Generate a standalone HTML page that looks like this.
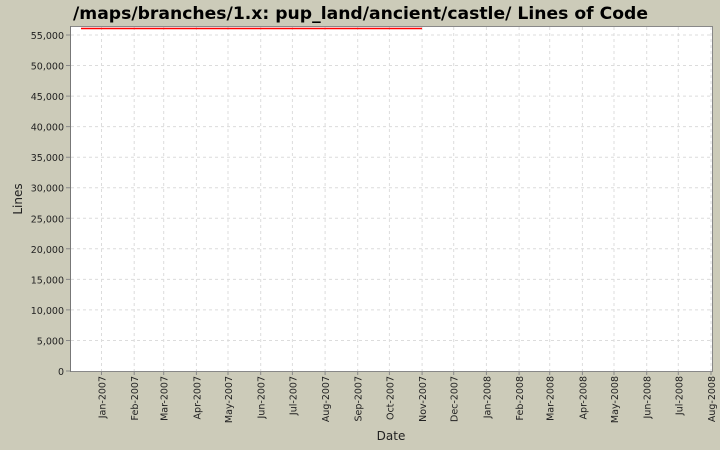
<!DOCTYPE html>
<html><head><meta charset="utf-8"><style>
html,body{margin:0;padding:0;background:#cccbb9;}
svg{display:block;font-family:"DejaVu Sans","Liberation Sans",sans-serif;}
</style></head><body>
<svg width="720" height="450" viewBox="0 0 720 450">
<rect width="720" height="450" fill="#cccbb9"/>
<text x="73" y="19" font-size="17" font-weight="bold" fill="#000" textLength="575" lengthAdjust="spacingAndGlyphs">/maps/branches/1.x: pup_land/ancient/castle/ Lines of Code</text>
<rect x="70.5" y="26.5" width="642" height="345" fill="#fff" stroke="#888"/>
<g stroke="#dcdcdc" stroke-dasharray="3,3" stroke-width="1">
<path d="M71 340.5H712M71 309.9H712M71 279.4H712M71 248.8H712M71 218.3H712M71 187.7H712M71 157.2H712M71 126.6H712M71 96.1H712M71 65.5H712M71 35H712"/>
<path d="M101.5 27V371M134.2 27V371M163.7 27V371M196.4 27V371M228 27V371M260.7 27V371M292.4 27V371M325.1 27V371M357.7 27V371M389.4 27V371M422.1 27V371M453.7 27V371M486.4 27V371M519.1 27V371M549.7 27V371M582.4 27V371M614 27V371M646.7 27V371M678.3 27V371M711 27V371"/>
</g>
<line x1="81" y1="28.5" x2="422" y2="28.5" stroke="#f00" stroke-width="1.5"/>
<line x1="70.5" y1="26" x2="70.5" y2="372" stroke="#777"/>
<g stroke="#888"><path d="M66 371H70M66 340.5H70M66 309.9H70M66 279.4H70M66 248.8H70M66 218.3H70M66 187.7H70M66 157.2H70M66 126.6H70M66 96.1H70M66 65.5H70M66 35H70"/>
<path d="M101.5 372V375M134.2 372V375M163.7 372V375M196.4 372V375M228 372V375M260.7 372V375M292.4 372V375M325.1 372V375M357.7 372V375M389.4 372V375M422.1 372V375M453.7 372V375M486.4 372V375M519.1 372V375M549.7 372V375M582.4 372V375M614 372V375M646.7 372V375M678.3 372V375M711 372V375"/></g>
<g font-size="9.5" fill="#222" text-anchor="end">
<text x="64" y="375">0</text><text x="64" y="344.5">5,000</text><text x="64" y="313.9">10,000</text><text x="64" y="283.4">15,000</text><text x="64" y="252.8">20,000</text><text x="64" y="222.3">25,000</text><text x="64" y="191.7">30,000</text><text x="64" y="161.2">35,000</text><text x="64" y="130.6">40,000</text><text x="64" y="100.1">45,000</text><text x="64" y="69.5">50,000</text><text x="64" y="39">55,000</text>
</g>
<g font-size="9.5" fill="#222" text-anchor="end">
<text transform="translate(105.5,376) rotate(-90)">Jan-2007</text>
<text transform="translate(138.2,376) rotate(-90)">Feb-2007</text>
<text transform="translate(167.7,376) rotate(-90)">Mar-2007</text>
<text transform="translate(200.4,376) rotate(-90)">Apr-2007</text>
<text transform="translate(232,376) rotate(-90)">May-2007</text>
<text transform="translate(264.7,376) rotate(-90)">Jun-2007</text>
<text transform="translate(296.4,376) rotate(-90)">Jul-2007</text>
<text transform="translate(329.1,376) rotate(-90)">Aug-2007</text>
<text transform="translate(361.7,376) rotate(-90)">Sep-2007</text>
<text transform="translate(393.4,376) rotate(-90)">Oct-2007</text>
<text transform="translate(426.1,376) rotate(-90)">Nov-2007</text>
<text transform="translate(457.7,376) rotate(-90)">Dec-2007</text>
<text transform="translate(490.4,376) rotate(-90)">Jan-2008</text>
<text transform="translate(523.1,376) rotate(-90)">Feb-2008</text>
<text transform="translate(553.7,376) rotate(-90)">Mar-2008</text>
<text transform="translate(586.4,376) rotate(-90)">Apr-2008</text>
<text transform="translate(618,376) rotate(-90)">May-2008</text>
<text transform="translate(650.7,376) rotate(-90)">Jun-2008</text>
<text transform="translate(682.3,376) rotate(-90)">Jul-2008</text>
<text transform="translate(715,376) rotate(-90)">Aug-2008</text>
</g>
<text x="391" y="440" text-anchor="middle" font-size="12" fill="#222">Date</text>
<text transform="translate(22,199) rotate(-90)" text-anchor="middle" font-size="12" fill="#222">Lines</text>
</svg>
</body></html>
